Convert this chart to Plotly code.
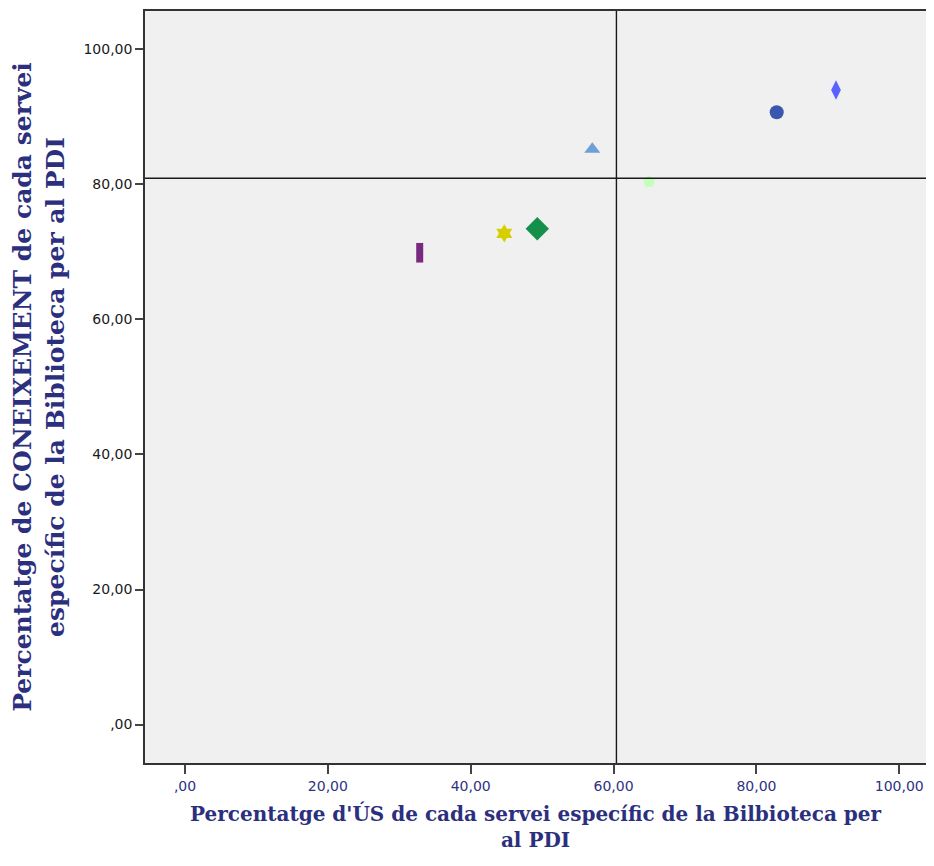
import plotly.graph_objects as go

# Data
us_pct = [32.86, 44.70, 49.32, 57.02, 64.96, 82.84, 91.14]
coneix_pct = [69.87, 72.74, 73.42, 85.19, 80.39, 90.67, 93.97]
symbols = ["line-ns", "hexagram", "diamond", "triangle-up", "pentagon", "circle", "diamond-tall"]
colors = ["#7a2a7e", "#d6cf00", "#15904a", "#6f9fd8", "#c4ffbe", "#3a57b0", "#5a63ff"]
sizes = [14, 14, 18, 14, 13, 14, 14]

ref_x = 60.4
ref_y = 80.9

tick_vals = [0, 20, 40, 60, 80, 100]
tick_text = [",00", "20,00", "40,00", "60,00", "80,00", "100,00"]

x_title = "Percentatge d'ÚS de cada servei específic de la Bilbioteca per<br>al PDI"
y_title = "Percentatge de CONEIXEMENT de cada servei<br>específic de la Biblioteca per al PDI"

fig = go.Figure()
for i in range(len(us_pct)):
    is_line = symbols[i].startswith("line")
    fig.add_trace(go.Scatter(
        x=[us_pct[i]], y=[coneix_pct[i]], mode="markers",
        marker=dict(symbol=symbols[i], size=sizes[i], color=colors[i],
                    line=dict(width=7 if is_line else 0, color=colors[i])),
        showlegend=False, hoverinfo="x+y"))

fig.add_shape(type="line", xref="x", yref="paper", x0=ref_x, x1=ref_x, y0=0, y1=1,
              line=dict(color="#1a1a1a", width=1.4))
fig.add_shape(type="line", xref="paper", yref="y", x0=0, x1=1, y0=ref_y, y1=ref_y,
              line=dict(color="#1a1a1a", width=1.4))

fig.add_annotation(text="<b>" + x_title + "</b>", xref="paper", yref="paper",
                   x=0.5, y=-0.12, xanchor="center", yanchor="bottom",
                   showarrow=False, align="center", borderpad=0,
                   font=dict(family="DejaVu Serif", size=20, color="#2b2f7e"))

fig.update_layout(
    width=918, height=850,
    margin=dict(l=137, r=0, t=3, b=95),
    paper_bgcolor="white", plot_bgcolor="#f0f0f0",
    xaxis=dict(range=[-5.6, 103.74], tickvals=tick_vals, ticktext=tick_text,
               showgrid=False, zeroline=False, showline=True, linecolor="#333333",
               linewidth=1.5, mirror=True, ticks="outside", ticklen=9, tickwidth=2,
               tickcolor="#444444", automargin=False,
               tickfont=dict(family="DejaVu Sans", size=14, color="#2e3380")),
    yaxis=dict(range=[-5.69, 105.67], tickvals=tick_vals, ticktext=tick_text,
               showgrid=False, zeroline=False, showline=True, linecolor="#333333",
               linewidth=1.5, ticks="outside", ticklen=8, tickwidth=2,
               tickcolor="#444444",
               tickfont=dict(family="DejaVu Sans", size=14, color="#1a1a1a"),
               title=dict(text="<b>" + y_title + "</b>",
                          font=dict(family="DejaVu Serif", size=25, color="#2b2f7e"),
                          standoff=12)),
)

fig.write_html("out.html")
